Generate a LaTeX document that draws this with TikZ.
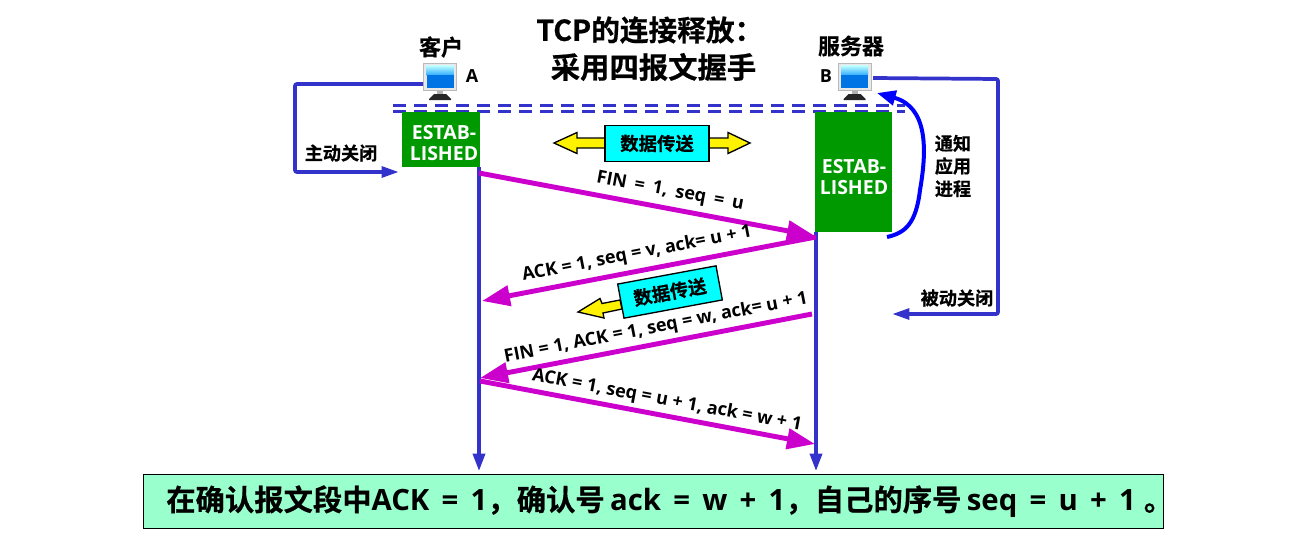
\documentclass[tikz,border=0pt]{standalone}
\usepackage{fontspec}
\setmainfont{Noto Sans CJK SC Bold}[FakeBold=0.6]
\newfontfamily\lat{Open Sans}[BoldFont={Open Sans Bold}]
\usetikzlibrary{arrows.meta,calc,shapes.arrows}
\definecolor{lineblue}{HTML}{3333CC}
\definecolor{pur}{HTML}{CC00CC}
\definecolor{est}{HTML}{009900}
\definecolor{mint}{HTML}{99FFCC}
\definecolor{cy}{HTML}{00FFFF}
\newcommand{\lt}[1]{{\lat\bfseries #1}}
\tikzset{
 lbl/.style={font=\fontsize{13.6}{15}\selectfont,text=black,inner sep=0pt},
 seg/.style={font=\fontsize{13.5}{14}\selectfont\bfseries\lat,text=black,inner sep=0pt},
 estbox/.style={fill=est,inner sep=0pt,draw=none},
 esttext/.style={text=white,font=\fontsize{14.6}{16}\selectfont\bfseries\lat,align=center,inner sep=0pt},
 databox/.style={draw=black,line width=1pt,fill=cy,inner sep=0pt,font=\fontsize{13.8}{15}\selectfont},
 life/.style={draw=lineblue,line width=2.6pt,-{Triangle[length=13pt,width=9pt]}},
 msg/.style={draw=pur,line width=3.7pt,-{Triangle[length=21pt,width=15pt]}},
 side/.style={draw=lineblue,line width=2.8pt,rounded corners=1.5pt,-{Triangle[length=13pt,width=8pt]}},
 dbl/.style={draw=lineblue,line width=2.2pt,dash pattern=on 9.75pt off 6pt},
 yarrow/.style={draw=black,line width=1pt,fill=yellow},
 pics/monitor/.style={code={
  \fill[gray!55] (-17,-14.5) rectangle (17,13.5);
  \fill[gray!18] (-16,-13.5) rectangle (16,12.5);
  \shade[top color=cyan!25,bottom color=cyan!60!blue!80] (-13.5,-11.5) rectangle (13.5,-2);
  \fill[blue!50!cyan!90!black] (-13.5,-2) rectangle (13.5,10.5);
  \fill[gray!60] (-3,13.5) rectangle (3,18);
  \fill[black!85] (-11,22) -- (-6,17) -- (6,17) -- (11,22) -- (11,23) -- (-11,23) -- cycle;
 }}
}
\begin{document}
\begin{tikzpicture}[x=0.75pt,y=-0.75pt]
\useasboundingbox (0,0) rectangle (1292,536);
% title
\node[font=\fontsize{21.5}{28}\selectfont,inner sep=0pt,anchor=west] (t1) at (536,30) {TCP的连接释放：};
\node[font=\fontsize{22}{28}\selectfont,inner sep=0pt] (t2) at (653.5,67) {采用四报文握手};
% hosts
\pic at (440,77) {monitor};
\pic at (854.5,77) {monitor};
\coordinate (ma) at (423,84);
\coordinate (mb) at (873,78);
\node[lbl,font=\fontsize{16.5}{18}\selectfont] (ka) at (441,47) {客户};
\node[lbl,font=\fontsize{16.5}{18}\selectfont] (sb) at (851,46) {服务器};
\node[seg] (A) at (472,76) {A};
\node[seg] (B) at (826,76) {B};
% dashed
\coordinate (d1l) at (393,105.5); \coordinate (d1r) at (905,105.5);
\coordinate (d2l) at (393,111.5); \coordinate (d2r) at (905,111.5);
\draw[dbl] (d1l) -- (d1r);
\draw[dbl] (d2l) -- (d2r);
% established
\node[estbox,minimum width=58.5pt,minimum height=41pt] (ea) at (441,139.5) {};
\node[estbox,minimum width=57.5pt,minimum height=90pt] (eb) at (853.5,172) {};
\node[esttext] (eat) at (444,143) {ESTAB-\\LISHED};
\node[esttext] (ebt) at (854,177) {ESTAB-\\LISHED};
% lifelines
\coordinate (la) at (479,167); \coordinate (lae) at (479,471);
\coordinate (lb) at (816,232); \coordinate (lbe) at (816,471);
\draw[life] (la) -- (lae);
\draw[life] (lb) -- (lbe);
% main msgs
\coordinate (m1a) at (479,173); \coordinate (m1b) at (815,236);
\coordinate (m2a) at (816,237); \coordinate (m2b) at (482,301);
\coordinate (m3a) at (812,314); \coordinate (m3b) at (480,378);
\coordinate (m4a) at (480,381); \coordinate (m4b) at (815,444);
\draw[msg] (m1a) -- (m1b);
\draw[msg] (m2a) -- (m2b);
\draw[msg] (m3a) -- (m3b);
\draw[msg] (m4a) -- (m4b);
\node[seg,rotate=-10.5] (f1) at (670,192) {\spaceskip=6pt FIN = 1, seq = u};
\node[seg,rotate=11] (f2) at (637,254) {ACK = 1, seq = v, ack= u + 1};
\node[seg,rotate=11] (f3) at (656,328) {FIN = 1, ACK = 1, seq = w, ack= u + 1};
\node[seg,rotate=-10.5] (f4) at (667,401) {ACK = 1, seq = u + 1, ack = w + 1};
% data top
\path[yarrow] (554,143) -- (577,132.5) -- (577,138) -- (728,138) -- (728,132.5) -- (750,143) -- (728,153.5) -- (728,148) -- (577,148) -- (577,153.5) -- cycle;
\node[databox,minimum width=78pt,minimum height=27pt] (d1) at (657,143.5) {数据传送};
% data rot
\path[yarrow] (620,300) -- (602,303.5) -- (600,298.5) -- (578,312) -- (604,318) -- (603,313) -- (622,309) -- cycle;
\node[databox,rotate=10.5,minimum width=75pt,minimum height=26pt] (d2) at (670,292) {数据传送};
% side
\draw[side] (ma) -- (295,84) -- (295,172) -- (399,172);
\node[lbl] (zd) at (341,153) {主动关闭};
\draw[side] (mb) -- (998,79) -- (998,314) -- (892,314);
\node[lbl] (bd) at (957,298) {被动关闭};
% notify
\coordinate (n1) at (887,237); \coordinate (n2) at (877,93);
\draw[draw=blue,line width=3pt,-{Triangle[length=14pt,width=11pt]}] (n1) .. controls (905,233) and (916,224) .. (920,190) .. controls (927,150) and (928,107) .. (n2);
\node[lbl,align=center,font=\fontsize{13.6}{17}\selectfont] (tz) at (953,166) {通知\\应用\\进程};
% bottom
\node[draw=black,line width=.6pt,fill=mint,minimum width=765pt,minimum height=40pt,inner sep=0pt] (bot) at (653,501.5) {};
\node[font=\fontsize{22}{26}\selectfont,inner sep=0pt,anchor=west] (bt) at (166,501.5) {\spaceskip=9.2pt 在确认报文段中\lt{ACK = 1}，确认号\hspace{4pt}\lt{ack = w + 1}，自己的序号\hspace{4pt}\lt{seq = u + 1}\hspace{6pt}。};
\end{tikzpicture}
\end{document}
